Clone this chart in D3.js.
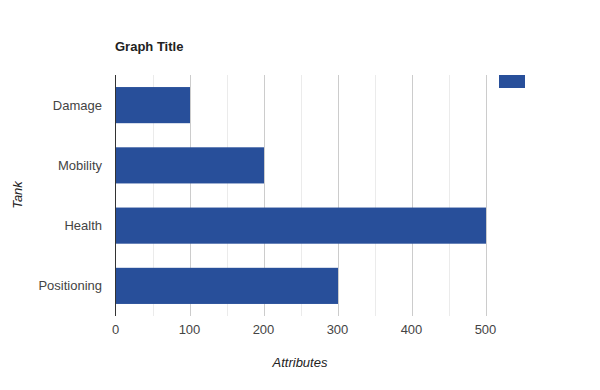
<!DOCTYPE html>
<html>
<head>
<meta charset="utf-8">
<script src="https://cdn.jsdelivr.net/npm/d3@7"></script>
<style>
  body { margin: 0; background: #fff; }
  text { font-family: "Liberation Sans", Arial, sans-serif; }
</style>
</head>
<body>
<div id="chart"></div>
<script>
// Data
const categories = ["Damage", "Mobility", "Health", "Positioning"];
const values = [100, 200, 500, 300];
const majorTicks = [0, 100, 200, 300, 400, 500];
const minorTicks = [50, 150, 250, 350, 450];

const width = 600;
const height = 390;
const plot = { left: 115.5, right: 485.5, top: 75, bottom: 316 };

const svg = d3.select("#chart")
  .append("svg")
  .attr("width", width)
  .attr("height", height);

const x = d3.scaleLinear()
  .domain([0, 500])
  .range([plot.left, plot.right]);

const y = d3.scaleBand()
  .domain(categories)
  .range([plot.top, plot.bottom])
  .paddingInner(0.4)
  .paddingOuter(0.2);

// Gridlines
svg.append("g").selectAll("line")
  .data(minorTicks)
  .enter().append("line")
  .attr("x1", d => Math.round(x(d)) + 0.5)
  .attr("x2", d => Math.round(x(d)) + 0.5)
  .attr("y1", plot.top)
  .attr("y2", plot.bottom)
  .attr("stroke", "#ebebeb");

svg.append("g").selectAll("line")
  .data(majorTicks.slice(1))
  .enter().append("line")
  .attr("x1", d => Math.round(x(d)) + 0.5)
  .attr("x2", d => Math.round(x(d)) + 0.5)
  .attr("y1", plot.top)
  .attr("y2", plot.bottom)
  .attr("stroke", "#cccccc");

// Bars
svg.append("g").selectAll("rect")
  .data(values)
  .enter().append("rect")
  .attr("x", x(0))
  .attr("y", (d, i) => y(categories[i]))
  .attr("width", d => Math.round(x(d)) - x(0))
  .attr("height", y.bandwidth())
  .attr("fill", "#284f9a");

// Baseline
svg.append("line")
  .attr("x1", x(0)).attr("x2", x(0))
  .attr("y1", plot.top).attr("y2", plot.bottom)
  .attr("stroke", "#333");

// Category labels
svg.append("g").selectAll("text")
  .data(categories)
  .enter().append("text")
  .attr("x", 102)
  .attr("y", d => y(d) + y.bandwidth() / 2)
  .attr("dy", "0.35em")
  .attr("text-anchor", "end")
  .style("font-size", "13px")
  .attr("fill", "#444")
  .text(d => d);

// Tick labels
svg.append("g").selectAll("text")
  .data(majorTicks)
  .enter().append("text")
  .attr("x", d => x(d))
  .attr("y", 334)
  .attr("text-anchor", "middle")
  .style("font-size", "13px")
  .attr("fill", "#444")
  .text(d => d);

// Title
svg.append("text")
  .attr("x", 115)
  .attr("y", 51)
  .style("font-size", "13px")
  .style("font-weight", "bold")
  .attr("fill", "#222")
  .text("Graph Title");

// Axis titles
svg.append("text")
  .attr("x", 300)
  .attr("y", 367)
  .attr("text-anchor", "middle")
  .style("font-size", "13px")
  .style("font-style", "italic")
  .attr("fill", "#222")
  .text("Attributes");

svg.append("text")
  .attr("transform", "translate(22, 195) rotate(-90)")
  .attr("text-anchor", "middle")
  .style("font-size", "13px")
  .style("font-style", "italic")
  .attr("fill", "#222")
  .text("Tank");

// Legend swatch (no label)
svg.append("rect")
  .attr("x", 499)
  .attr("y", 75)
  .attr("width", 26)
  .attr("height", 13)
  .attr("fill", "#284f9a");
</script>
</body>
</html>
